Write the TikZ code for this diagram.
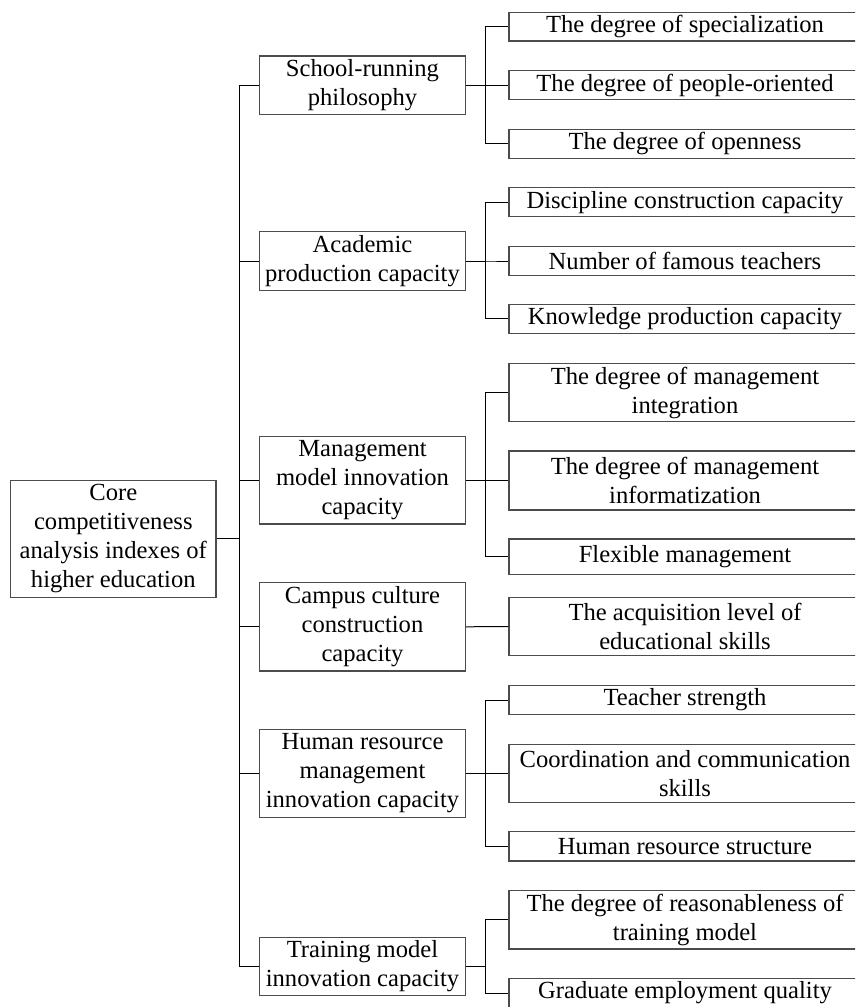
\documentclass[tikz,border=0pt]{standalone}
\usepackage{fontspec}
\setmainfont{Liberation Serif}

\begin{document}
\begin{tikzpicture}[x=1pt, y=-1pt, line width=1pt,
	box/.style={draw=black!70, line width=1.2pt, align=center, inner sep=0pt,
		font=\fontsize{24.6}{29}\selectfont},
	mid/.style={box, minimum width=205.6pt},
	leaf/.style={box, minimum width=352pt}]
\useasboundingbox (0,0) rectangle (855,1007);
\clip (0,0) rectangle (855,1007);
\coordinate (trunk) at (239.3,0);
\coordinate (fork) at (485.3,0);
\node[box, minimum width=205.3pt, minimum height=117pt] (core) at (113.3,538.8)
	{Core\\ competitiveness\\ analysis indexes of\\ higher education};
\node[mid, minimum height=58.3pt] (phil) at (362.5,85.2) {School-running\\ philosophy};
\node[mid, minimum height=58.6pt] (acad) at (362.5,261) {Academic\\ production capacity};
\node[mid, minimum height=87.3pt] (mgmt) at (362.5,480.3) {Management\\ model innovation\\ capacity};
\node[mid, minimum height=88.3pt] (campus) at (362.5,626.8) {Campus culture\\ construction\\ capacity};
\node[mid, minimum height=88pt] (human) at (362.5,773.3) {Human resource\\ management\\ innovation capacity};
\node[mid, minimum height=58.4pt] (train) at (362.5,966.5) {Training model\\ innovation capacity};
\node[leaf, minimum height=28.7pt] (spec) at (685,26.7) {The degree of specialization};
\node[leaf, minimum height=28.6pt] (people) at (685,85) {The degree of people-oriented};
\node[leaf, minimum height=29pt] (open) at (685,143.8) {The degree of openness};
\node[leaf, minimum height=29pt] (disc) at (685,202.2) {Discipline construction capacity};
\node[leaf, minimum height=28.6pt] (famous) at (685,261) {Number of famous teachers};
\node[leaf, minimum height=29pt] (know) at (685,318.8) {Knowledge production capacity};
\node[leaf, minimum height=58.4pt] (integ) at (685,392.5) {The degree of management\\ integration};
\node[leaf, minimum height=59pt] (info) at (685,480.5) {The degree of management\\ informatization};
\node[leaf, minimum height=35.3pt] (flex) at (685,556.7) {Flexible management};
\node[leaf, minimum height=58.4pt] (skills) at (685,626.5) {The acquisition level of\\ educational skills};
\node[leaf, minimum height=29.4pt] (strength) at (685,700) {Teacher strength};
\node[leaf, minimum height=58pt] (coord) at (685,773.3) {Coordination and communication\\ skills};
\node[leaf, minimum height=29.3pt] (struct) at (685,846.3) {Human resource structure};
\node[leaf, minimum height=58.7pt] (reason) at (685,919.7) {The degree of reasonableness of\\ training model};
\node[leaf, minimum height=29.2pt] (grad) at (685,993) {Graduate employment quality};
\draw (core.east) -- (core.east -| trunk);
\draw (phil.west -| trunk) -- (train.west -| trunk);
\foreach \m in {phil, acad, mgmt, campus, human, train}
	\draw (\m.west -| trunk) -- (\m.west);
\foreach \m/\l in {phil/spec, phil/people, phil/open, acad/disc, acad/famous, acad/know,
		mgmt/integ, mgmt/info, mgmt/flex, human/strength, human/coord, human/struct,
		train/reason, train/grad}
	\draw (\m.east) -- (\m.east -| fork) |- (\l.west);
\draw (campus.east) -- (skills.west);
\end{tikzpicture}
\end{document}
